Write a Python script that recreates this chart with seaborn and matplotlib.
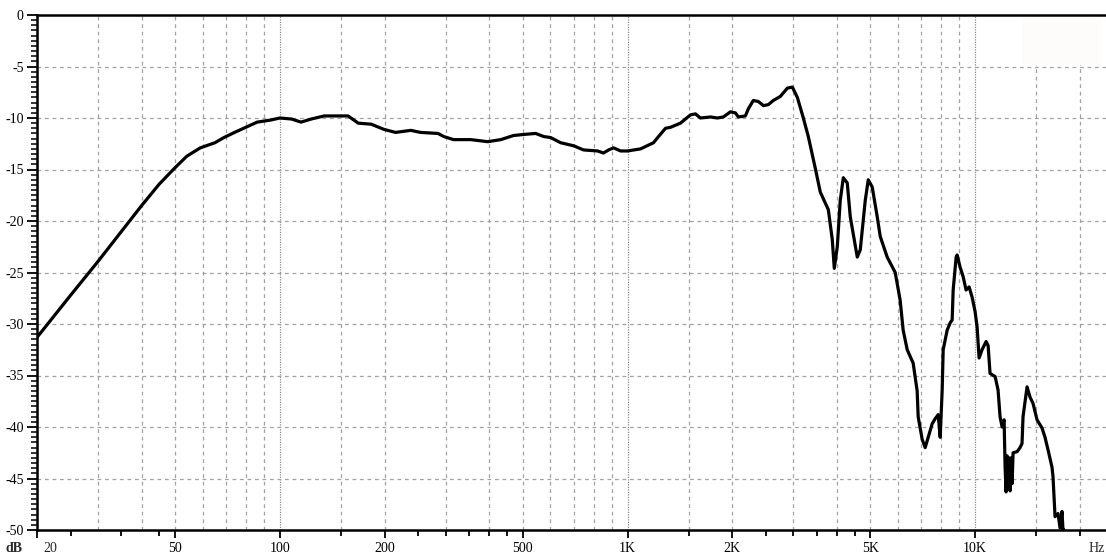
import numpy as np
import pandas as pd
import matplotlib
matplotlib.use("Agg")
import matplotlib.pyplot as plt
import seaborn as sns
from matplotlib.ticker import NullFormatter
from matplotlib.patches import Rectangle

# ---------------- data ----------------
freq_hz = [20, 25, 30, 35, 40, 45, 50, 54, 59, 65, 69, 74, 81, 86, 94, 100,
           108, 115, 123, 134, 157, 168, 183, 199, 215, 238, 254, 285, 296,
           316, 354, 396, 432, 470, 502, 544, 574, 601, 642, 700, 747, 820,
           853, 882, 912, 955, 1000, 1090, 1188, 1228, 1286, 1330, 1420,
           1517, 1568, 1621, 1732, 1814, 1887, 1977, 2043, 2084, 2183, 2227,
           2301, 2379, 2460, 2542, 2627, 2753, 2883, 2980, 3080, 3205, 3312,
           3470, 3586, 3782, 3882, 3934, 4013, 4093, 4176, 4287, 4374, 4581,
           4673, 4830, 4927, 5058, 5229, 5334, 5585, 5890, 6087, 6209, 6378,
           6634, 6812, 6858, 7042, 7184, 7328, 7522, 7674, 7830, 7935, 8040,
           8094, 8309, 8474, 8590, 8647, 8820, 8877, 9057, 9237, 9420, 9612,
           9804, 10000, 10133, 10268, 10471, 10755, 10900, 11041, 11418,
           11641, 11798, 11957, 12117, 12198, 12279, 12361, 12443, 12525,
           12608, 12692, 12776, 12860, 13205, 13467, 13646, 13737, 14108,
           14388, 14675, 15071, 15578, 15890, 16207, 16642, 16752, 16982,
           17321, 17553, 17783, 17900, 18020]
level_db = [-31.3, -27.2, -23.9, -21.0, -18.5, -16.4, -14.8, -13.7, -12.9,
            -12.4, -11.9, -11.4, -10.8, -10.4, -10.2, -10.0, -10.1, -10.4,
            -10.1, -9.8, -9.8, -10.5, -10.6, -11.1, -11.4, -11.2, -11.4,
            -11.5, -11.8, -12.1, -12.1, -12.3, -12.1, -11.7, -11.6, -11.5,
            -11.8, -11.9, -12.4, -12.7, -13.1, -13.2, -13.4, -13.1, -12.9,
            -13.2, -13.2, -13.0, -12.4, -11.8, -11.0, -10.9, -10.5, -9.7,
            -9.6, -10.0, -9.9, -10.0, -9.9, -9.4, -9.5, -9.9, -9.8, -9.1,
            -8.3, -8.4, -8.8, -8.7, -8.3, -7.9, -7.1, -7.0, -8.0, -10.0,
            -11.8, -14.9, -17.2, -18.9, -21.8, -24.6, -22.5, -18.0, -15.8,
            -16.3, -19.6, -23.5, -22.8, -18.0, -16.0, -16.7, -19.6, -21.5,
            -23.5, -25.0, -27.7, -30.6, -32.5, -33.8, -36.5, -39.0, -41.2,
            -42.0, -41.0, -39.7, -39.2, -38.8, -41.0, -36.4, -32.5, -30.6,
            -29.9, -29.6, -26.7, -23.5, -23.3, -24.5, -25.4, -26.7, -26.4,
            -27.4, -28.8, -30.3, -33.3, -32.5, -31.7, -32.1, -34.8, -35.1,
            -36.4, -39.0, -40.0, -39.3, -43.9, -46.3, -42.8, -46.0, -43.0,
            -46.2, -43.0, -45.5, -42.5, -42.4, -42.0, -41.6, -39.0, -36.1,
            -37.1, -37.7, -39.3, -40.1, -41.0, -42.2, -43.9, -44.8, -48.7,
            -48.4, -49.8, -48.2, -50.0, -50.0]

x_major = [20, 50, 100, 200, 500, 1000, 2000, 5000, 10000]
x_major_labels = ["20", "50", "100", "200", "500", "1K", "2K", "5K", "10K"]
x_minor = [25, 35, 45, 150, 250, 300, 350, 400, 450, 1500, 2500, 3000,
           3500, 4000, 4500, 15000, 20000]
grid_dashed_x = [30, 40, 50, 60, 70, 80, 90, 150, 200, 300, 400, 500, 600,
                 700, 800, 900, 1500, 2000, 3000, 4000, 5000, 6000, 7000,
                 8000, 9000, 15000, 20000]
grid_dotted_x = [100, 1000, 10000]
y_major = [0, -5, -10, -15, -20, -25, -30, -35, -40, -45, -50]
y_labels = ["0", "-5", "-10", "-15", "-20", "-25", "-30", "-35", "-40",
            "-45", "-50"]
grid_y = [-5, -10, -15, -20, -25, -30, -35, -40, -45]

# ---------------- style ----------------
sns.set_style("white")
plt.rcParams["font.family"] = ["Liberation Serif", "DejaVu Serif"]

W, H = 1106, 554
fig = plt.figure(figsize=(W / 100, H / 100), dpi=100)
ax = fig.add_axes([37 / W, 24 / H, 1069 / W, 515 / H])

df = pd.DataFrame({"freq": freq_hz, "db": level_db})
sns.lineplot(data=df, x="freq", y="db", ax=ax, color="black", linewidth=2.3,
             sort=False, estimator=None, zorder=3)

ax.set_xscale("log")
ax.set_xlim(20, 23800)
ax.set_ylim(-50, 0)
ax.set_xlabel("")
ax.set_ylabel("")

grid_col = "#a3a0a6"
for f in grid_dashed_x:
    ax.axvline(f, color=grid_col, lw=0.9, ls=(0, (3, 3)), zorder=1)
for f in grid_dotted_x:
    ax.axvline(f, color="#8c8c8c", lw=0.9, ls=(0, (1, 1)), zorder=1)
for yv in grid_y:
    ax.axhline(yv, color=grid_col, lw=0.9, ls=(0, (3, 3)), zorder=1)

# faint box in the upper right corner
ax.add_patch(Rectangle((0.921, 0.903), 0.075, 0.093, transform=ax.transAxes,
                       facecolor="#fdfcfa", edgecolor="none", zorder=2))

# spines
for s in ["left", "top", "bottom"]:
    ax.spines[s].set_visible(True)
    ax.spines[s].set_linewidth(1.8)
    ax.spines[s].set_color("black")
ax.spines["right"].set_visible(False)

# x ticks
ax.set_xticks(x_major)
ax.set_xticklabels([""] + x_major_labels[1:])
ax.set_xticks(x_minor, minor=True)
ax.xaxis.set_minor_formatter(NullFormatter())
ax.tick_params(axis="x", which="major", direction="out", length=6, width=1.3,
               pad=3, labelsize=10, bottom=True, colors="black")
ax.tick_params(axis="x", which="minor", direction="out", length=4, width=1.3,
               bottom=True, colors="black")
ax.annotate(x_major_labels[0], xy=(x_major[0], 0), xycoords=("data", "axes fraction"),
            xytext=(6, -18), textcoords="offset pixels", ha="left", va="center",
            fontsize=10)

# y ticks
ax.set_yticks(y_major)
ax.set_yticklabels(y_labels)
ax.set_yticks(np.arange(-50, 0.01, 0.5), minor=True)
ax.yaxis.set_minor_formatter(NullFormatter())
ax.tick_params(axis="y", which="major", direction="out", length=7.5, width=1.3,
               pad=2, labelsize=10, left=True, colors="black")
ax.tick_params(axis="y", which="minor", direction="out", length=4.5, width=1.1,
               left=True, colors="black")

fig.text(5 / W, 1 - 548 / H, "dB", fontweight="bold", fontsize=10, va="center",
         ha="left")
fig.text(1097 / W, 1 - 548 / H, "Hz", fontsize=10, va="center", ha="center")

fig.savefig("out.png", dpi=100, facecolor="white")
